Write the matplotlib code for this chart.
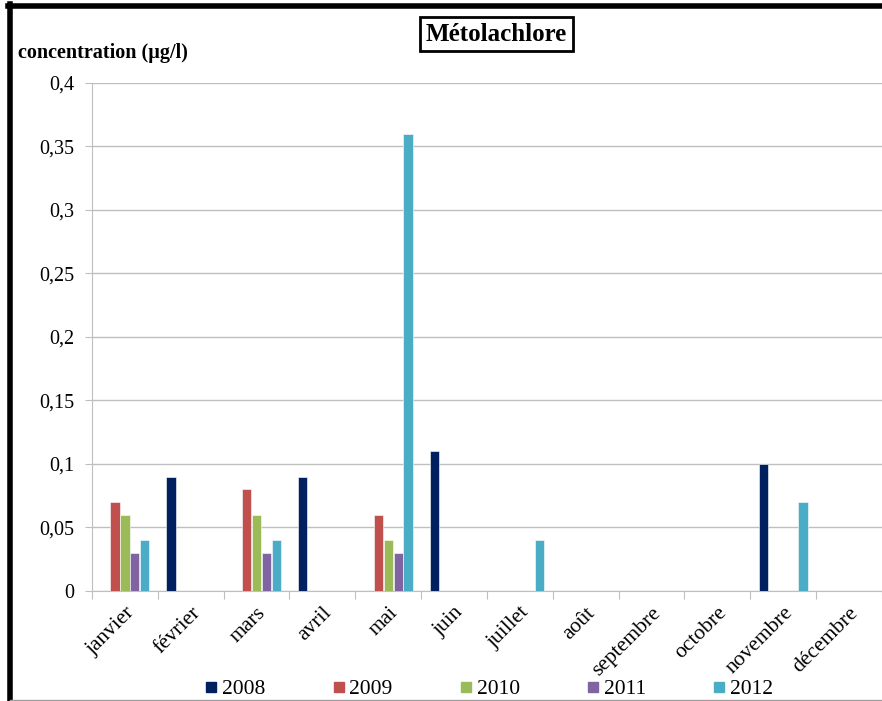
import matplotlib.pyplot as plt
import matplotlib.lines as mlines
import numpy as np

plt.rcParams['font.family'] = ['Liberation Serif', 'DejaVu Serif']

# months on the x axis
months = ['janvier', 'février', 'mars', 'avril', 'mai', 'juin', 'juillet',
          'août', 'septembre', 'octobre', 'novembre', 'décembre']
years = ['2008', '2009', '2010', '2011', '2012']

# concentrations per year (0 = no bar)
v2008 = [0, 0.09, 0, 0.09, 0, 0.11, 0, 0, 0, 0, 0.10, 0]
v2009 = [0.07, 0, 0.08, 0, 0.06, 0, 0, 0, 0, 0, 0, 0]
v2010 = [0.06, 0, 0.06, 0, 0.04, 0, 0, 0, 0, 0, 0, 0]
v2011 = [0.03, 0, 0.03, 0, 0.03, 0, 0, 0, 0, 0, 0, 0]
v2012 = [0.04, 0, 0.04, 0, 0.36, 0, 0.04, 0, 0, 0, 0.07, 0]

colors = ['#002060', '#c0504d', '#9bbb59', '#8064a2', '#4bacc6']
series = [v2008, v2009, v2010, v2011, v2012]

fig = plt.figure(figsize=(8.82, 7.01), dpi=100)
ax = fig.add_axes([0.1043, 0.157, 0.8957, 0.7246])

x = np.arange(len(months))
slot = 0.15
for i, (vals, c, yr) in enumerate(zip(series, colors, years)):
    ax.bar(x + (i - 2) * slot, vals, width=0.14, color=c, label=yr,
           edgecolor='white', linewidth=0.4, zorder=3)

ax.set_xlim(-0.5, 11.5)
ax.set_ylim(0, 0.4)
yt = np.arange(0, 0.401, 0.05)
ax.set_yticks(yt)
ax.set_yticklabels(['0', '0,05', '0,1', '0,15', '0,2', '0,25', '0,3', '0,35', '0,4'],
                   fontsize=14.5)
ax.yaxis.grid(True, color='#bfbfbf', linewidth=1, zorder=0)
ax.set_axisbelow(True)

# ticks sit between categories, labels at category centres
ax.set_xticks(np.arange(-0.5, 12, 1))
ax.set_xticklabels([])
ax.set_xticks(x, minor=True)
ax.set_xticklabels(months, minor=True, rotation=45, ha='right',
                   rotation_mode='anchor', fontsize=15.5)
ax.tick_params(axis='x', which='minor', length=0, pad=9)
ax.tick_params(axis='x', which='major', length=6, color='#bfbfbf')
ax.tick_params(axis='y', length=5, color='#bfbfbf', pad=8)

for s in ['top', 'right']:
    ax.spines[s].set_visible(False)
ax.spines['left'].set_color('#bfbfbf')
ax.spines['bottom'].set_color('#bfbfbf')

fig.text(0.563, 0.951, 'Métolachlore', ha='center', va='center',
         fontsize=18, fontweight='bold',
         bbox=dict(boxstyle='square,pad=0.22', facecolor='white',
                   edgecolor='black', linewidth=2))
fig.text(0.02, 0.925, 'concentration (µg/l)', ha='left', va='center',
         fontsize=14.5, fontweight='bold')

handles = [mlines.Line2D([], [], marker='s', linestyle='', color=c,
                         markersize=7) for c in colors]
fig.legend(handles, years, loc='center', bbox_to_anchor=(0.553, 0.017),
           ncol=5, frameon=False, fontsize=15.5, columnspacing=3.0,
           handletextpad=0.1, handlelength=0.8)

# outer border bits of the original screenshot
fig.add_artist(mlines.Line2D([0.011, 0.011], [0, 0.995], color='black',
                             linewidth=4, transform=fig.transFigure))
fig.add_artist(mlines.Line2D([0.009, 1], [0.991, 0.991], color='black',
                             linewidth=4, transform=fig.transFigure))
fig.add_artist(mlines.Line2D([0.011, 1], [0.002, 0.002], color='#a0a0a0',
                             linewidth=1, transform=fig.transFigure))

fig.savefig('out.png', dpi=100)
